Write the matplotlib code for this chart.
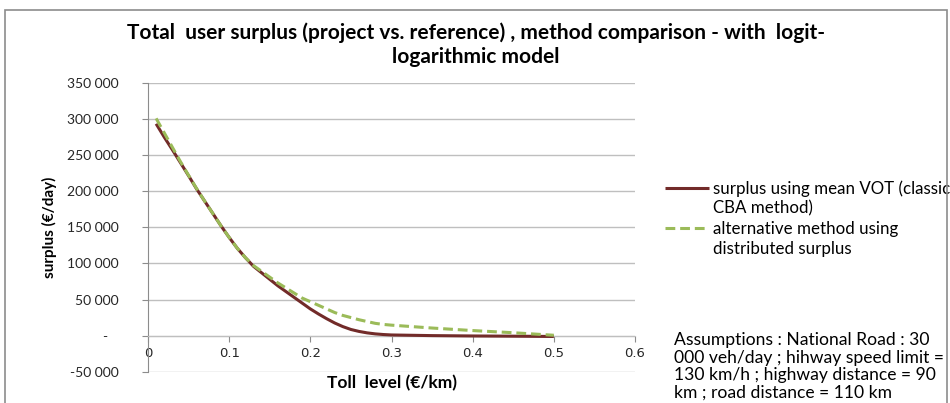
import matplotlib
matplotlib.use("Agg")
import matplotlib.pyplot as plt
from matplotlib.patches import Rectangle

# toll level (€/km) and daily surplus
toll = [0.01, 0.02, 0.03, 0.04, 0.05, 0.06, 0.07, 0.08, 0.09, 0.10,
        0.11, 0.12, 0.13, 0.14, 0.15, 0.16, 0.17, 0.18, 0.19, 0.20,
        0.21, 0.22, 0.23, 0.24, 0.25, 0.26, 0.27, 0.28, 0.29, 0.30,
        0.35, 0.40, 0.45, 0.50]
surplus_mean_vot = [293500, 275000, 257500, 239500, 221500, 203000, 186000, 169000, 152000, 136000,
                    121000, 108000, 96000, 87000, 78000, 69000, 61000, 53000, 45000, 37000,
                    30000, 23500, 17500, 12500, 8500, 5800, 3800, 2400, 1500, 900,
                    0, -500, -800, -1200]
surplus_distributed = [301000, 281000, 261000, 241000, 222000, 203500, 186000, 169000, 152000, 136000,
                       121000, 108000, 97000, 89000, 81000, 73000, 66000, 59000, 52000, 47000,
                       42000, 37000, 32000, 28000, 25000, 22000, 19500, 17000, 15500, 14500,
                       10500, 7000, 4000, 500]

y_ticks = [-50000, 0, 50000, 100000, 150000, 200000, 250000, 300000, 350000]
y_ticklabels = ['-50 000', '-   ', '50 000', '100 000', '150 000', '200 000', '250 000', '300 000', '350 000']
x_ticks = [0, 0.1, 0.2, 0.3, 0.4, 0.5, 0.6]
x_ticklabels = ['0', '0.1', '0.2', '0.3', '0.4', '0.5', '0.6']

title = 'Total  user surplus (project vs. reference) , method comparison - with  logit-\nlogarithmic model'
# legend labels wrap onto a second line, handle sits next to the first one
label_mean = ['surplus using mean VOT (classic', 'CBA method)']
label_dist = ['alternative method using', 'distributed surplus']
note = ('Assumptions : National Road : 30\n000 veh/day ; hihway speed limit =\n'
        '130 km/h ; highway distance = 90\nkm ; road distance = 110 km')

brown = '#722b29'
green = '#9bbb59'
grid_c = '#bfbfbf'
font = 'Lato'
leg_size = 12.2

fig = plt.figure(figsize=(9.5, 4.03), dpi=100)
fig.patches.append(Rectangle((5 / 950, -0.1), 942 / 950, 1.1 - 10 / 403, transform=fig.transFigure,
                             fill=False, edgecolor='#8c8c8c', lw=1.2))

ax = fig.add_axes([148 / 950, 1 - 371.7 / 403, (635 - 148) / 950, (371.7 - 83) / 403])
ax.set_xlim(0, 0.6)
ax.set_ylim(-50000, 350000)

for yv in y_ticks:
    ax.axhline(yv, color=grid_c, lw=1, zorder=0)

ax.plot(toll, surplus_mean_vot, color=brown, lw=2.2, solid_capstyle='butt', label=label_mean[0], zorder=3)
ax.plot(toll, surplus_distributed, color=green, lw=2.2, dashes=(3.2, 1.6), label=label_dist[0], zorder=4)

for s in ['top', 'right']:
    ax.spines[s].set_visible(False)
ax.spines['left'].set_color('#8c8c8c')
ax.spines['bottom'].set_color(grid_c)
ax.spines['bottom'].set_position(('data', 0))

ax.set_yticks(y_ticks)
ax.set_yticklabels(y_ticklabels, fontfamily=font, fontsize=10, color='#262626')
ax.set_xticks(x_ticks)
ax.set_xticklabels(x_ticklabels, fontfamily='DejaVu Sans', fontsize=9.5, color='#262626')
ax.tick_params(axis='y', length=4, color='#8c8c8c', pad=17)
ax.tick_params(axis='x', length=4, color='#8c8c8c', pad=4)

ax.set_ylabel('surplus (€/day)', fontfamily=font, fontweight='bold', fontsize=11)
ax.yaxis.set_label_coords(-91 / 487, (371.7 - 227) / 288.7)
fig.text(392 / 950, 1 - 383 / 403, 'Toll  level (€/km)', fontfamily=font, fontweight='bold',
         fontsize=12.5, ha='center', va='center')

fig.text(476 / 950, 1 - 45 / 403, title, fontfamily=font, fontweight='bold', fontsize=15,
         ha='center', va='center', linespacing=1.25)

leg = ax.legend(loc='upper left', bbox_to_anchor=(665 / 950, 1 - 180 / 403), bbox_transform=fig.transFigure,
                frameon=False, prop={'family': font, 'size': leg_size}, handlelength=2.6, handletextpad=0.24,
                labelspacing=1.45, borderpad=0, borderaxespad=0)

# second lines of the legend labels
fig.text(713 / 950, 1 - 208 / 403, label_mean[1], fontfamily=font, fontsize=leg_size, ha='left', va='center')
fig.text(713 / 950, 1 - 249 / 403, label_dist[1], fontfamily=font, fontsize=leg_size, ha='left', va='center')

fig.text(674 / 950, 1 - 332 / 403, note, fontfamily=font, fontsize=12.6, ha='left', va='top',
         linespacing=1.12)

fig.savefig('out.png', dpi=100)
